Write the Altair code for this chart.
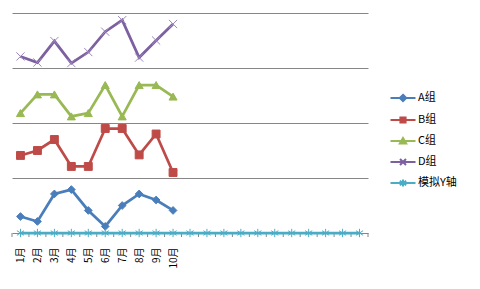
import json
import altair as alt
import pandas as pd

MONTHS = ["1月", "2月", "3月", "4月", "5月", "6月", "7月", "8月", "9月", "10月"]
CATEGORY_COUNT = 21
SERIES = ["A组", "B组", "C组", "D组", "模拟Y轴"]
A = [0.30, 0.21, 0.71, 0.79, 0.41, 0.12, 0.50, 0.71, 0.60, 0.41]
B = [1.41, 1.50, 1.70, 1.21, 1.21, 1.90, 1.90, 1.42, 1.80, 1.10]
C = [2.18, 2.52, 2.52, 2.12, 2.18, 2.69, 2.12, 2.69, 2.69, 2.48]
D = [3.21, 3.10, 3.49, 3.09, 3.29, 3.66, 3.87, 3.19, 3.50, 3.80]
E = [0] * CATEGORY_COUNT

LINE_COLORS = ["#4A7EBB", "#BE4B48", "#98B954", "#7D60A0", "#4BACC6"]
FILL_COLORS = ["#4A7EBB", "#BE4B48", "#98B954", "transparent", "transparent"]
STROKE_COLORS = ["#4A7EBB", "#BE4B48", "#98B954", "#9C87BE", "#4BACC6"]
MARKER_SIZES = [60, 70, 75, 80, 110]

X_PATH = "M-1,-1L1,1M-1,1L1,-1"
STAR_PATH = "M0,-1L0,1M-0.85,-0.55L0.85,0.55M-0.85,0.55L0.85,-0.55"
PLOT_SHAPES = ["diamond", "square", "triangle-up", X_PATH, STAR_PATH]

LINE = "M-1.25,0L1.25,0"
LEGEND_SHAPES = [
    LINE + "M0,-0.32L0.32,0L0,0.32L-0.32,0Z",
    LINE + "M-0.26,-0.26H0.26V0.26H-0.26Z",
    LINE + "M0,-0.3L0.32,0.26H-0.32Z",
    LINE + "M-0.3,-0.3L0.3,0.3M-0.3,0.3L0.3,-0.3",
    LINE + "M0,-0.36L0,0.36M-0.32,-0.22L0.32,0.22M-0.32,0.22L0.32,-0.22",
]

rows = []
for name, vals in zip(SERIES, [A, B, C, D, E]):
    for i, v in enumerate(vals):
        rows.append({"idx": i + 1, "value": v, "series": name})
df = pd.DataFrame(rows)

bounds = pd.DataFrame({"b": [i + 0.5 for i in range(CATEGORY_COUNT + 1)]})

label_expr = json.dumps(MONTHS, ensure_ascii=False) + "[datum.value - 1]"

xscale = alt.Scale(domain=[0.5, CATEGORY_COUNT + 0.5], nice=False, zero=False)
yscale = alt.Scale(domain=[0, 4], nice=False)

XAXIS = alt.Axis(
    values=list(range(1, len(MONTHS) + 1)),
    labelExpr=label_expr,
    labelAngle=-90,
    labelAlign="right",
    labelBaseline="middle",
    labelPadding=14,
    labelOverlap=False,
    labelFont="Noto Sans CJK SC",
    labelFontSize=10,
    labelColor="#000000",
    ticks=False,
    grid=False,
    domain=True,
    domainColor="#868686",
    title=None,
)
YAXIS = alt.Axis(
    values=[1, 2, 3, 4],
    grid=True,
    gridColor="#868686",
    gridWidth=1,
    labels=False,
    ticks=False,
    domain=False,
    title=None,
)

def xe(field):
    return alt.X(field, scale=xscale, axis=XAXIS)

def ye(field):
    return alt.Y(field, scale=yscale, axis=YAXIS)

lines = alt.Chart(df).mark_line(strokeWidth=2.75).encode(
    x=xe("idx:Q"),
    y=ye("value:Q"),
    color=alt.Color("series:N", scale=alt.Scale(domain=SERIES, range=LINE_COLORS), legend=None),
    detail="series:N",
)

points = alt.Chart(df).mark_point(filled=False, strokeWidth=1, opacity=1).encode(
    x=xe("idx:Q"),
    y=ye("value:Q"),
    shape=alt.Shape("series:N", scale=alt.Scale(domain=SERIES, range=PLOT_SHAPES), legend=None),
    fill=alt.Fill("series:N", scale=alt.Scale(domain=SERIES, range=FILL_COLORS), legend=None),
    stroke=alt.Stroke("series:N", scale=alt.Scale(domain=SERIES, range=STROKE_COLORS), legend=None),
    size=alt.Size("series:N", scale=alt.Scale(domain=SERIES, range=MARKER_SIZES), legend=None),
)

ticks = alt.Chart(bounds).mark_rule(color="#868686", strokeWidth=1, y2Offset=4).encode(
    x=xe("b:Q"),
    y=alt.datum(0, scale=yscale, axis=YAXIS),
    y2=alt.datum(0),
)

legend_layer = alt.Chart(df).transform_filter("false").mark_point(filled=True, opacity=1).encode(
    x=xe("idx:Q"),
    y=ye("value:Q"),
    shape=alt.Shape(
        "series:N",
        scale=alt.Scale(domain=SERIES, range=LEGEND_SHAPES),
        legend=alt.Legend(
            title=None,
            orient="none",
            legendX=380,
            legendY=74,
            symbolSize=400,
            symbolStrokeWidth=2,
            rowPadding=3,
            labelOffset=4,
            labelFont="Noto Sans CJK SC",
            labelFontSize=11,
            labelColor="#000000",
            padding=0,
        ),
    ),
    color=alt.Color("series:N", scale=alt.Scale(domain=SERIES, range=LINE_COLORS)),
    stroke=alt.Stroke("series:N", scale=alt.Scale(domain=SERIES, range=LINE_COLORS)),
)

chart = (
    alt.layer(ticks, lines, points, legend_layer)
    .resolve_scale(shape="independent", fill="independent", stroke="independent",
                   color="independent", size="independent")
    .properties(
        width=356,
        height=220,
        autosize=alt.AutoSizeParams(type="none"),
        padding={"left": 12, "top": 13, "right": 112, "bottom": 56},
        background="#ffffff",
    )
    .configure_view(stroke=None)
    .configure_axisX(labelOverlap=False)
)

chart.save("out.html", embed_options={"renderer": "svg", "actions": False})
